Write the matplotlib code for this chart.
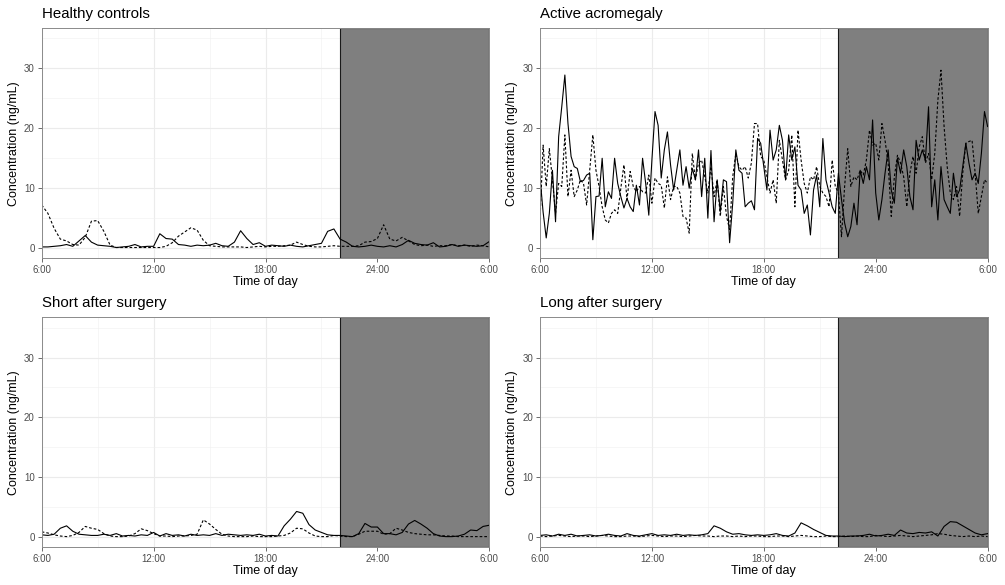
import numpy as np
import matplotlib
matplotlib.use("Agg")
import matplotlib.pyplot as plt

plt.rcParams['font.family'] = ['Liberation Sans', 'DejaVu Sans']

# sampling times (hours after midnight of day 1, 6:00 -> 6:00 next day)
t_fine = 6 + np.arange(145) / 6.0     # every 10 min
t_coarse = 6 + np.arange(73) / 3.0    # every 20 min

panel_titles = ["Healthy controls", "Active acromegaly",
                "Short after surgery", "Long after surgery"]

healthy_solid = [0.2, 0.2, 0.3, 0.4, 0.6, 0.3, 1.2, 2.1, 1.0, 0.5,
                 0.4, 0.3, 0.1, 0.2, 0.3, 0.6, 0.2, 0.3, 0.3, 2.4,
                 1.6, 1.5, 0.6, 0.5, 0.3, 0.5, 0.4, 0.5, 0.8, 0.4,
                 0.3, 1.0, 2.9, 1.6, 0.6, 0.9, 0.3, 0.5, 0.4, 0.3,
                 0.5, 0.3, 0.2, 0.4, 0.6, 0.8, 2.8, 3.2, 1.5, 1.0,
                 0.3, 0.2, 0.3, 0.5, 0.3, 0.2, 0.4, 0.2, 0.6, 1.3,
                 0.8, 0.6, 0.5, 0.9, 0.2, 0.3, 0.6, 0.3, 0.5, 0.4,
                 0.3, 0.4, 1.1]
healthy_dotted = [7.2, 5.8, 3.3, 1.5, 1.2, 0.6, 0.5, 1.8, 4.5, 4.6,
                  2.8, 0.5, 0.1, 0.1, 0.1, 0.1, 0.1, 0.1, 0.1, 0.1,
                  0.3, 0.9, 2.0, 2.7, 3.4, 3.0, 1.3, 0.4, 0.3, 0.2,
                  0.2, 0.2, 0.2, 0.1, 0.2, 0.3, 0.2, 0.3, 0.3, 0.4,
                  0.5, 1.0, 0.6, 0.3, 0.2, 0.2, 0.3, 0.4, 0.3, 0.3,
                  0.3, 0.4, 1.0, 1.1, 1.6, 3.9, 1.5, 1.2, 1.8, 1.2,
                  0.6, 0.4, 0.5, 0.3, 0.4, 0.4, 0.6, 0.4, 0.5, 0.3,
                  0.5, 0.4, 0.2]

acro_solid = [11.9, 6.0, 1.7, 5.8, 13.0, 4.4, 18.6, 23.6, 28.9, 20.8,
              15.3, 13.6, 13.3, 11.1, 11.3, 12.2, 12.5, 1.4, 8.6, 8.7,
              15.0, 6.9, 9.4, 8.3, 15.0, 10.8, 8.6, 6.7, 8.3, 6.9,
              6.1, 10.5, 7.2, 15.0, 10.8, 5.5, 14.7, 22.8, 20.5, 11.7,
              16.4, 19.4, 13.9, 9.7, 13.0, 16.4, 10.5, 13.6, 10.0, 13.3,
              11.4, 16.4, 8.6, 15.0, 5.0, 16.3, 4.4, 11.4, 6.1, 11.4,
              11.1, 0.9, 7.5, 16.4, 13.0, 12.5, 6.9, 7.5, 7.9, 6.4,
              18.3, 17.5,
              13.6, 9.7, 19.7, 14.7, 16.4, 20.5, 18.0, 11.4,
              18.9, 14.7, 16.9, 10.5, 9.7, 5.8, 7.2, 2.2, 9.7, 12.2,
              6.9, 18.3, 11.4, 9.2, 6.9, 5.8, 12.5,
              8.1, 4.2, 1.9, 3.6, 7.5, 3.9, 13.0, 10.8, 13.6, 11.4,
              21.4, 9.2, 4.7, 8.1, 12.5, 16.4, 9.7, 7.5, 15.0, 12.5,
              16.4, 13.6, 8.6, 6.4, 18.0, 14.7, 16.4, 14.7, 23.6, 6.9,
              11.4, 4.7, 13.6, 8.1, 6.9, 5.8, 12.5, 8.6, 9.7, 13.6,
              17.5, 14.2, 11.4, 12.5, 10.8, 15.8, 22.8, 20.3]
acro_dotted = [4.7, 17.2, 10.3, 16.6, 11.4, 5.8, 10.8, 10.3, 18.9, 8.6,
               13.0, 8.6, 9.7, 11.4, 10.8, 7.2, 13.0, 18.9, 13.0, 10.3,
               6.9, 4.7, 4.2, 5.8, 6.4, 5.8, 10.0, 13.9, 8.1, 12.8,
               10.3, 9.4, 10.3, 9.4, 9.2, 12.2, 7.5, 11.7, 10.8, 10.5,
               6.7, 11.9, 8.1, 10.3, 10.3, 9.2, 5.3, 5.0, 2.5, 15.8,
               11.4, 14.2, 14.7, 11.9, 9.2, 13.6, 8.6, 11.4, 5.3, 10.3,
               5.3, 3.1, 11.9, 15.8, 13.6, 13.0, 13.6, 11.7, 14.2, 20.8,
               20.8, 15.3,
               14.7, 11.9, 9.2, 11.4, 7.5, 18.0, 14.7, 11.4, 13.0, 18.9,
               6.9, 19.7, 14.7, 10.8, 9.2, 11.9, 11.4, 13.6, 10.3, 9.2,
               8.6, 6.9, 14.7, 10.3, 9.2,
               1.9, 10.3, 16.6, 10.3, 11.9, 11.4, 13.0, 12.2, 14.7, 19.7,
               17.2, 17.5, 14.7, 20.8, 18.0, 14.2, 5.3, 11.9, 15.5, 14.2,
               11.9, 6.9, 12.5, 15.3, 12.5, 16.9, 18.6, 14.2, 15.8, 11.4,
               15.8, 24.7, 29.7, 20.3, 13.6, 9.2, 8.1, 10.3, 5.3, 12.5,
               17.5, 17.8, 18.0, 12.5, 5.8, 8.6, 11.4, 10.8]

short_solid = [0.4, 0.3, 0.5, 1.5, 1.9, 1.0, 0.5, 0.4, 0.3, 0.3,
               0.5, 0.3, 0.6, 0.2, 0.3, 0.2, 0.4, 0.3, 0.8, 0.2,
               0.6, 0.3, 0.4, 0.2, 0.5, 0.3, 0.4, 0.3, 0.6, 0.3,
               0.5, 0.4, 0.3, 0.4, 0.3, 0.5, 0.2, 0.3, 0.2, 1.9,
               3.0, 4.3, 4.0, 2.1, 1.2, 0.8, 0.4, 0.3, 0.3, 0.2,
               0.1, 0.6, 2.3, 1.7, 1.7, 0.6, 0.6, 0.4, 0.8, 2.2,
               2.8, 2.2, 1.5, 0.6, 0.2, 0.1, 0.1, 0.2, 0.5, 1.2,
               1.1, 1.8, 2.0]
short_dotted = [0.9, 0.7, 0.4, 0.2, 0.1, 0.3, 0.8, 1.8, 1.5, 1.3,
                0.6, 0.2, 0.1, 0.1, 0.2, 0.6, 1.4, 1.1, 0.6, 0.2,
                0.2, 0.1, 0.2, 0.2, 0.3, 0.5, 2.9, 2.2, 1.3, 0.5,
                0.2, 0.1, 0.1, 0.1, 0.2, 0.1, 0.1, 0.1, 0.2, 0.3,
                0.7, 1.5, 1.4, 0.7, 0.2, 0.1, 0.1, 0.3, 0.2, 0.1,
                0.1, 0.5, 1.0, 1.0, 1.0, 0.5, 0.6, 1.5, 1.2, 0.8,
                0.6, 0.5, 0.4, 0.4, 0.3, 0.2, 0.2, 0.1, 0.1, 0.1,
                0.1, 0.1, 0.1]

long_solid = [0.3, 0.4, 0.2, 0.5, 0.3, 0.5, 0.2, 0.3, 0.4, 0.2,
              0.3, 0.5, 0.3, 0.2, 0.6, 0.3, 0.2, 0.4, 0.6, 0.3,
              0.4, 0.3, 0.5, 0.3, 0.4, 0.3, 0.4, 0.6, 1.9, 1.5,
              0.9, 0.5, 0.6, 0.4, 0.3, 0.4, 0.3, 0.4, 0.6, 0.3,
              0.2, 0.7, 2.4, 1.9, 1.3, 0.8, 0.3, 0.2, 0.2, 0.1,
              0.2, 0.2, 0.3, 0.5, 0.2, 0.3, 0.5, 0.3, 1.2, 0.7,
              0.6, 0.8, 0.7, 0.9, 0.2, 1.8, 2.6, 2.5, 1.9, 1.3,
              0.7, 0.4, 0.6]
long_dotted = [0.2, 0.1, 0.2, 0.3, 0.2, 0.1, 0.2, 0.2, 0.1, 0.2,
               0.3, 0.2, 0.1, 0.1, 0.2, 0.2, 0.1, 0.2, 0.3, 0.2,
               0.1, 0.2, 0.2, 0.1, 0.2, 0.3, 0.2, 0.2, 0.1, 0.2,
               0.2, 0.1, 0.2, 0.1, 0.2, 0.2, 0.1, 0.1, 0.2, 0.2,
               0.1, 0.2, 0.3, 0.2, 0.1, 0.1, 0.2, 0.1, 0.1, 0.2,
               0.1, 0.2, 0.1, 0.1, 0.3, 0.2, 0.1, 0.2, 0.3, 0.2,
               0.1, 0.2, 0.3, 0.4, 0.6, 0.5, 0.3, 0.2, 0.1, 0.2,
               0.1, 0.2, 0.1]

series = [
    (t_coarse, healthy_solid, healthy_dotted),
    (t_fine, acro_solid, acro_dotted),
    (t_coarse, short_solid, short_dotted),
    (t_coarse, long_solid, long_dotted),
]

x_ticks = [6, 12, 18, 24, 30]
x_labels = ["6:00", "12:00", "18:00", "24:00", "6:00"]
y_ticks = [0, 10, 20, 30]
night_start, night_end = 22, 30

W, H = 1005, 585
fig = plt.figure(figsize=(W / 100, H / 100), dpi=100)

# panel boxes in pixels: left, top, right, bottom
boxes = [(41.7, 28.3, 489.3, 258.3), (540.0, 28.3, 987.6, 258.3),
         (41.7, 317.4, 489.3, 547.4), (540.0, 317.4, 987.6, 547.4)]

for (l, t, r, b), title, (tt, s_solid, s_dot) in zip(boxes, panel_titles, series):
    ax = fig.add_axes([l / W, 1 - b / H, (r - l) / W, (b - t) / H])
    ax.set_xlim(6, 30)
    ax.set_ylim(-1.7, 36.7)
    ax.set_xticks(x_ticks)
    ax.set_xticklabels(x_labels)
    ax.set_yticks(y_ticks)
    ax.set_xticks([9, 15, 21, 27], minor=True)
    ax.set_yticks([5, 15, 25, 35], minor=True)
    ax.grid(which='major', color='#ebebeb', linewidth=0.8)
    ax.grid(which='minor', color='#f0f0f0', linewidth=0.4)
    ax.set_axisbelow(True)
    ax.tick_params(which='minor', length=0)
    ax.tick_params(which='major', length=3, width=0.6, color='#555555',
                   labelcolor='#4d4d4d', labelsize=7, pad=2)
    for sp in ax.spines.values():
        sp.set_color('#8a8a8a')
        sp.set_linewidth(0.7)
        sp.set_zorder(5)

    ax.axvspan(night_start, night_end, facecolor='#7f7f7f',
               edgecolor='#1a1a1a', linewidth=0.8, zorder=1)
    ax.plot(tt, s_solid, color='black', linewidth=0.8, zorder=3)
    ax.plot(tt, s_dot, color='black', linewidth=0.8,
            linestyle=(0, (2.4, 1.8)), zorder=3)

    ax.set_xlabel("Time of day", fontsize=9, va='center')
    ax.xaxis.set_label_coords(0.5, -0.103)
    ax.set_ylabel("Concentration (ng/mL)", fontsize=9, va='center')
    ax.yaxis.set_label_coords(-0.062, 0.5)
    fig.text(l / W, 1 - (t - 10) / H, title, fontsize=10.8,
             ha='left', va='baseline')

fig.savefig("out.png", dpi=100)
